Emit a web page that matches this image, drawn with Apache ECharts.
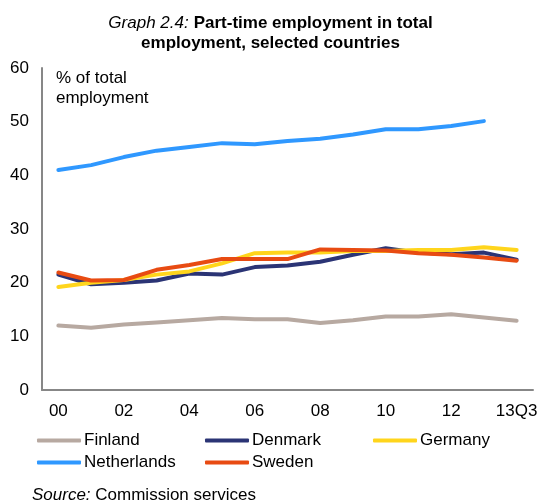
<!DOCTYPE html>
<html>
<head>
<meta charset="utf-8">
<script src="https://cdn.jsdelivr.net/npm/echarts@6/dist/echarts.min.js"></script>
<style>
  html, body { margin: 0; padding: 0; background: #fff; }
  #chart { width: 541px; height: 501px; }
</style>
</head>
<body>
<div id="chart"></div>
<script>
// categories: years 2000-2013 plus 2013 Q3
const years = ['00', '01', '02', '03', '04', '05', '06', '07', '08', '09', '10', '11', '12', '13', '13Q3']

// % of total employment
const finland = [12.0, 11.6, 12.2, 12.6, 13.0, 13.4, 13.2, 13.2, 12.5, 13.0, 13.7, 13.7, 14.1, 13.5, 12.9]
const denmark = [21.5, 19.7, 20.0, 20.4, 21.7, 21.5, 22.9, 23.2, 23.9, 25.2, 26.4, 25.6, 25.3, 25.6, 24.3]
const germany = [19.2, 20.0, 20.5, 21.5, 22.1, 23.6, 25.5, 25.6, 25.6, 25.9, 25.9, 26.1, 26.1, 26.6, 26.1]
const netherlands = [41.0, 41.9, 43.4, 44.6, 45.3, 46.0, 45.8, 46.4, 46.8, 47.6, 48.6, 48.6, 49.2, 50.1, null]
const sweden = [21.9, 20.4, 20.5, 22.4, 23.3, 24.4, 24.4, 24.4, 26.2, 26.1, 26.0, 25.5, 25.2, 24.7, 24.1]

const font = 'Liberation Sans, Arial, sans-serif'
const fs = 17

const chart = echarts.init(document.getElementById('chart'))

// 一条线
const line = (name, data, color) => ({
  name,
  type: 'line',
  data,
  showSymbol: false,
  symbol: 'none',
  lineStyle: { color, width: 4, cap: 'round', join: 'round' },
  itemStyle: { color },
  z: 2
})

const legendBase = {
  orient: 'vertical',
  top: 432,
  padding: 0,
  itemWidth: 44,
  itemHeight: 4,
  itemGap: 5,
  icon: 'roundRect',
  textStyle: { fontFamily: font, fontSize: fs, color: '#000', padding: [0, 0, 0, -2] }
}

const option = {
  animation: false,
  title: {
    left: 'center',
    top: 13,
    padding: 0,
    text: '{i|Graph 2.4:} {b|Part-time employment in total}\n{b|employment, selected countries}',
    textStyle: {
      fontFamily: font,
      fontWeight: 'normal',
      rich: {
        i: { fontStyle: 'italic', fontWeight: 'normal', fontSize: fs, fontFamily: font, color: '#000', lineHeight: 20 },
        b: { fontWeight: 'bold', fontSize: fs, fontFamily: font, color: '#000', lineHeight: 20 }
      }
    }
  },
  grid: { left: 42, right: 8, top: 68, bottom: 111 },
  legend: [
    { ...legendBase, left: 37, data: ['Finland', 'Netherlands'] },
    { ...legendBase, left: 205, data: ['Denmark', 'Sweden'] },
    { ...legendBase, left: 373, data: ['Germany'] }
  ],
  xAxis: {
    type: 'category',
    data: years,
    boundaryGap: true,
    axisLine: { lineStyle: { color: '#878787', width: 2 } },
    axisTick: { show: false },
    axisLabel: {
      interval: (i) => i % 2 === 0,
      fontFamily: font,
      fontSize: fs,
      color: '#000',
      margin: 13
    }
  },
  yAxis: {
    type: 'value',
    min: 0,
    max: 60,
    interval: 10,
    splitLine: { show: false },
    axisTick: { show: false },
    axisLine: { show: true, lineStyle: { color: '#878787', width: 2 } },
    axisLabel: { fontFamily: font, fontSize: fs, color: '#000', margin: 13 }
  },
  graphic: [
    {
      type: 'text',
      left: 56,
      top: 68,
      style: { text: '% of total\nemployment', font: fs + 'px ' + font, fill: '#000', lineHeight: 20 }
    },
    {
      type: 'text',
      left: 32,
      top: 487,
      style: {
        text: '{i|Source:} Commission services',
        font: fs + 'px ' + font,
        fill: '#000',
        rich: { i: { fontStyle: 'italic', fontSize: fs, fontFamily: font } }
      }
    }
  ],
  series: [
    line('Finland', finland, '#b7a9a1'),
    line('Denmark', denmark, '#2b3475'),
    line('Germany', germany, '#ffd51c'),
    line('Netherlands', netherlands, '#2f98ff'),
    line('Sweden', sweden, '#e84b12')
  ]
}

chart.setOption(option)
window.addEventListener('resize', chart.resize)
</script>
</body>
</html>
